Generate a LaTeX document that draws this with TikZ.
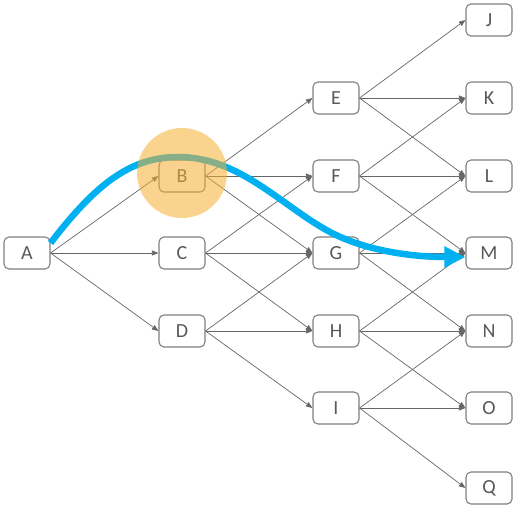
\documentclass[tikz,border=0pt]{standalone}
\usepackage{fontspec}
\setmainfont{Carlito}
\usetikzlibrary{arrows.meta,calc}
\definecolor{boxline}{HTML}{7F7F7F}
\definecolor{txt}{HTML}{595959}
\definecolor{edge}{HTML}{666666}
\definecolor{hl}{HTML}{00B0F0}
\definecolor{spot}{HTML}{F5AF31}
\tikzset{
  stage/.style={draw=boxline, line width=1.1pt, fill=white, rounded corners=5pt,
    minimum width=46pt, minimum height=32pt, inner sep=0pt,
    text=txt, font=\fontsize{20}{20}\selectfont},
  link/.style={draw=edge, line width=0.7pt, -{Triangle[length=6.5pt,width=5pt]}},
  route/.style={draw=hl, line width=6.5pt, -{Triangle[length=21pt,width=20pt]}},
}
\begin{document}
\begin{tikzpicture}[x=1pt,y=-1pt]
\useasboundingbox (0,0) rectangle (516,507);
% first column
\node[stage] (A) at (27,253) {A};
% second column
\node[stage] (B) at (182,176) {B};
\node[stage] (C) at (182,253) {C};
\node[stage] (D) at (182,331) {D};
% third column
\node[stage] (E) at (336,98) {E};
\node[stage] (F) at (336,176) {F};
\node[stage] (G) at (336,253) {G};
\node[stage] (H) at (336,331) {H};
\node[stage] (I) at (336,408) {I};
% last column
\node[stage] (J) at (489,20) {J};
\node[stage] (K) at (489,98) {K};
\node[stage] (L) at (489,176) {L};
\node[stage] (M) at (489,253) {M};
\node[stage] (N) at (489,331) {N};
\node[stage] (O) at (489,408) {O};
\node[stage] (Q) at (489,488) {Q};
% connections
\foreach \s/\t in {A/B,A/C,A/D,
                   B/E,B/F,B/G, C/F,C/G,C/H, D/G,D/H,D/I,
                   E/J,E/K,E/L, F/K,F/L,F/M, G/L,G/M,G/N,
                   H/M,H/N,H/O, I/N,I/O,I/Q}
  \draw[link] (\s.east) -- (\t.west);
% highlighted route
\draw[route] ($(A.east)+(0,-10)$) .. controls (95,185) and (130,157) .. (178,157)
  .. controls (240,157) and (280,205) .. (330,232)
  .. controls (370,253) and (420,257) .. ($(M.west)+(0,4)$);
% spotlight on B
\fill[spot, opacity=0.55] (182,173) circle (45);
\end{tikzpicture}
\end{document}
